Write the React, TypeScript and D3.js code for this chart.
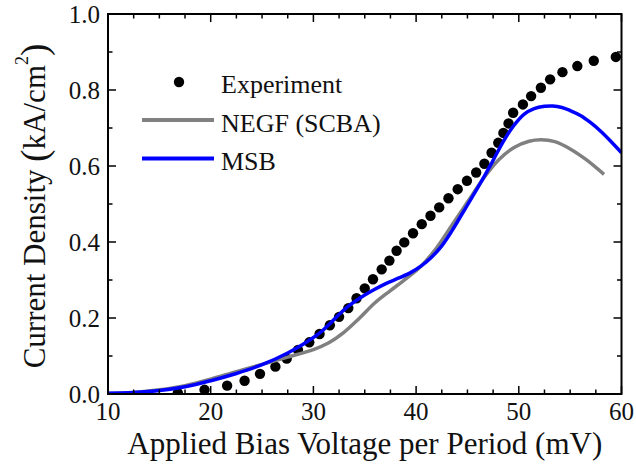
import React from "react";
import * as d3 from "d3";

const expV = [16.8, 19.4, 21.6, 23.3, 24.8, 26.3, 27.4, 28.5, 29.6, 30.6, 31.6, 32.5, 33.4, 34.2, 35.0, 35.8, 36.65, 37.4, 38.1, 38.85, 39.7, 40.55, 41.4, 42.25, 43.15, 44.05, 44.95, 45.85, 46.65, 47.35, 48.0, 48.5, 49.0, 49.45, 50.4, 51.2, 52.15, 53.05, 54.25, 55.7, 57.3, 59.45];
const expJ = [0.003, 0.011, 0.022, 0.035, 0.053, 0.072, 0.093, 0.116, 0.136, 0.158, 0.181, 0.203, 0.226, 0.252, 0.278, 0.302, 0.328, 0.351, 0.377, 0.399, 0.423, 0.447, 0.469, 0.491, 0.515, 0.539, 0.561, 0.583, 0.606, 0.635, 0.661, 0.687, 0.712, 0.74, 0.762, 0.784, 0.806, 0.828, 0.847, 0.863, 0.877, 0.887];

const negfV = [10, 12.5, 15, 17.5, 20, 22.5, 25, 27.5, 30, 31.5, 33, 34.5, 36, 37.5, 39, 40.5, 42, 43.5, 45, 46.5, 48, 49.5, 51, 52.2, 53.5, 55, 56.5, 58.3];
const negfJ = [0.001, 0.004, 0.011, 0.022, 0.039, 0.059, 0.078, 0.097, 0.117, 0.135, 0.163, 0.2, 0.24, 0.272, 0.303, 0.337, 0.385, 0.445, 0.505, 0.565, 0.615, 0.648, 0.665, 0.669, 0.664, 0.645, 0.618, 0.578];

const msbV = [10, 12.5, 15, 17.5, 20, 22.5, 25, 27.5, 29, 30.6, 31.6, 32.6, 33.5, 34.5, 35.8, 37, 38.4, 39.5, 40.5, 41.5, 42.5, 43.5, 44.5, 45.5, 46.5, 47.5, 48.5, 49.5, 50.5, 51.5, 52.5, 53.3, 54.2, 55, 56, 57, 58, 59, 60];
const msbJ = [0.002, 0.004, 0.009, 0.019, 0.035, 0.054, 0.077, 0.108, 0.131, 0.16, 0.185, 0.212, 0.233, 0.252, 0.273, 0.29, 0.306, 0.32, 0.337, 0.36, 0.39, 0.43, 0.475, 0.52, 0.566, 0.615, 0.665, 0.706, 0.736, 0.751, 0.757, 0.758, 0.754, 0.746, 0.733, 0.714, 0.691, 0.664, 0.635];

const xMajor = [10, 20, 30, 40, 50, 60];
const yMajor = [0.0, 0.2, 0.4, 0.6, 0.8, 1.0];

const FONT = "'Liberation Serif', 'Times New Roman', serif";

export default function App() {
  const W = 636, H = 467;
  const L = 108, R = 621.5, T = 14, B = 394;
  const x = d3.scaleLinear().domain([10, 60]).range([L, R]);
  const y = d3.scaleLinear().domain([0, 1]).range([B, T]);

  const xMinor = d3.range(10, 60.001, 2.5);
  const yMinor = d3.range(0, 1.0001, 0.1);

  const line = d3
    .line<[number, number]>()
    .x((d) => x(d[0]))
    .y((d) => y(d[1]))
    .curve(d3.curveCatmullRom.alpha(0.5));

  const negf = line(negfV.map((v, i) => [v, negfJ[i]]));
  const msb = line(msbV.map((v, i) => [v, msbJ[i]]));

  const isMajorX = (v: number) => Math.abs(v % 10) < 1e-6;
  const isMajorY = (v: number) => Math.abs(Math.round(v * 10) % 2) === 0;

  return (
    <svg width={W} height={H} style={{ position: "absolute", left: 0, top: 0, background: "#fff" }}>
      <defs>
        <clipPath id="plot">
          <rect x={L} y={T} width={R - L} height={B - T} />
        </clipPath>
      </defs>
      <rect x={0} y={0} width={W} height={H} fill="#fff" />
      <g clipPath="url(#plot)">
        {expV.map((v, i) => (
          <circle key={i} cx={x(v)} cy={y(expJ[i])} r={5.2} fill="#000" />
        ))}
        <path d={negf || ""} fill="none" stroke="#808080" strokeWidth={3.5} />
        <path d={msb || ""} fill="none" stroke="#0000ff" strokeWidth={3.5} />
      </g>
      {/* ticks */}
      <g stroke="#000" strokeWidth={1.5}>
        {xMinor.map((v, i) => {
          const len = isMajorX(v) ? 8 : 4.5;
          return (
            <g key={"xt" + i}>
              <line x1={x(v)} x2={x(v)} y1={B} y2={B - len} />
              <line x1={x(v)} x2={x(v)} y1={T} y2={T + len} />
            </g>
          );
        })}
        {yMinor.map((v, i) => {
          const len = isMajorY(v) ? 8 : 4.5;
          return (
            <g key={"yt" + i}>
              <line x1={L} x2={L + len} y1={y(v)} y2={y(v)} />
              <line x1={R} x2={R - len} y1={y(v)} y2={y(v)} />
            </g>
          );
        })}
      </g>
      <rect x={L} y={T} width={R - L} height={B - T} fill="none" stroke="#000" strokeWidth={2} />
      {/* tick labels */}
      <g fontFamily={FONT} fontSize={25} fill="#111">
        {xMajor.map((v) => (
          <text key={"xl" + v} x={x(v)} y={420} textAnchor="middle">
            {v}
          </text>
        ))}
        {yMajor.map((v) => (
          <text key={"yl" + v} x={100} y={y(v)} dy="0.34em" textAnchor="end">
            {v.toFixed(1)}
          </text>
        ))}
      </g>
      {/* axis titles */}
      <text x={(L + R) / 2} y={454} textAnchor="middle" fontFamily={FONT} fontSize={31} fill="#111">
        Applied Bias Voltage per Period (mV)
      </text>
      <text
        transform={`translate(45,${(T + B) / 2 + 2}) rotate(-90)`}
        textAnchor="middle"
        fontFamily={FONT}
        fontSize={31}
        fill="#111"
      >
        Current Density <tspan fontSize={37} dy={2}>(</tspan>
        <tspan dy={-2}>kA/cm</tspan>
        <tspan fontSize={18} dy={-17}>2</tspan>
        <tspan fontSize={37} dy={19}>)</tspan>
      </text>
      {/* legend */}
      <g fontFamily={FONT} fontSize={26} fill="#111">
        <circle cx={179} cy={82} r={5.2} fill="#000" />
        <text x={221} y={93}>Experiment</text>
        <line x1={142} x2={214} y1={120} y2={120} stroke="#808080" strokeWidth={4} />
        <text x={221} y={131.5}>NEGF (SCBA)</text>
        <line x1={142} x2={214} y1={158.5} y2={158.5} stroke="#0000ff" strokeWidth={4} />
        <text x={221} y={170}>MSB</text>
      </g>
    </svg>
  );
}
